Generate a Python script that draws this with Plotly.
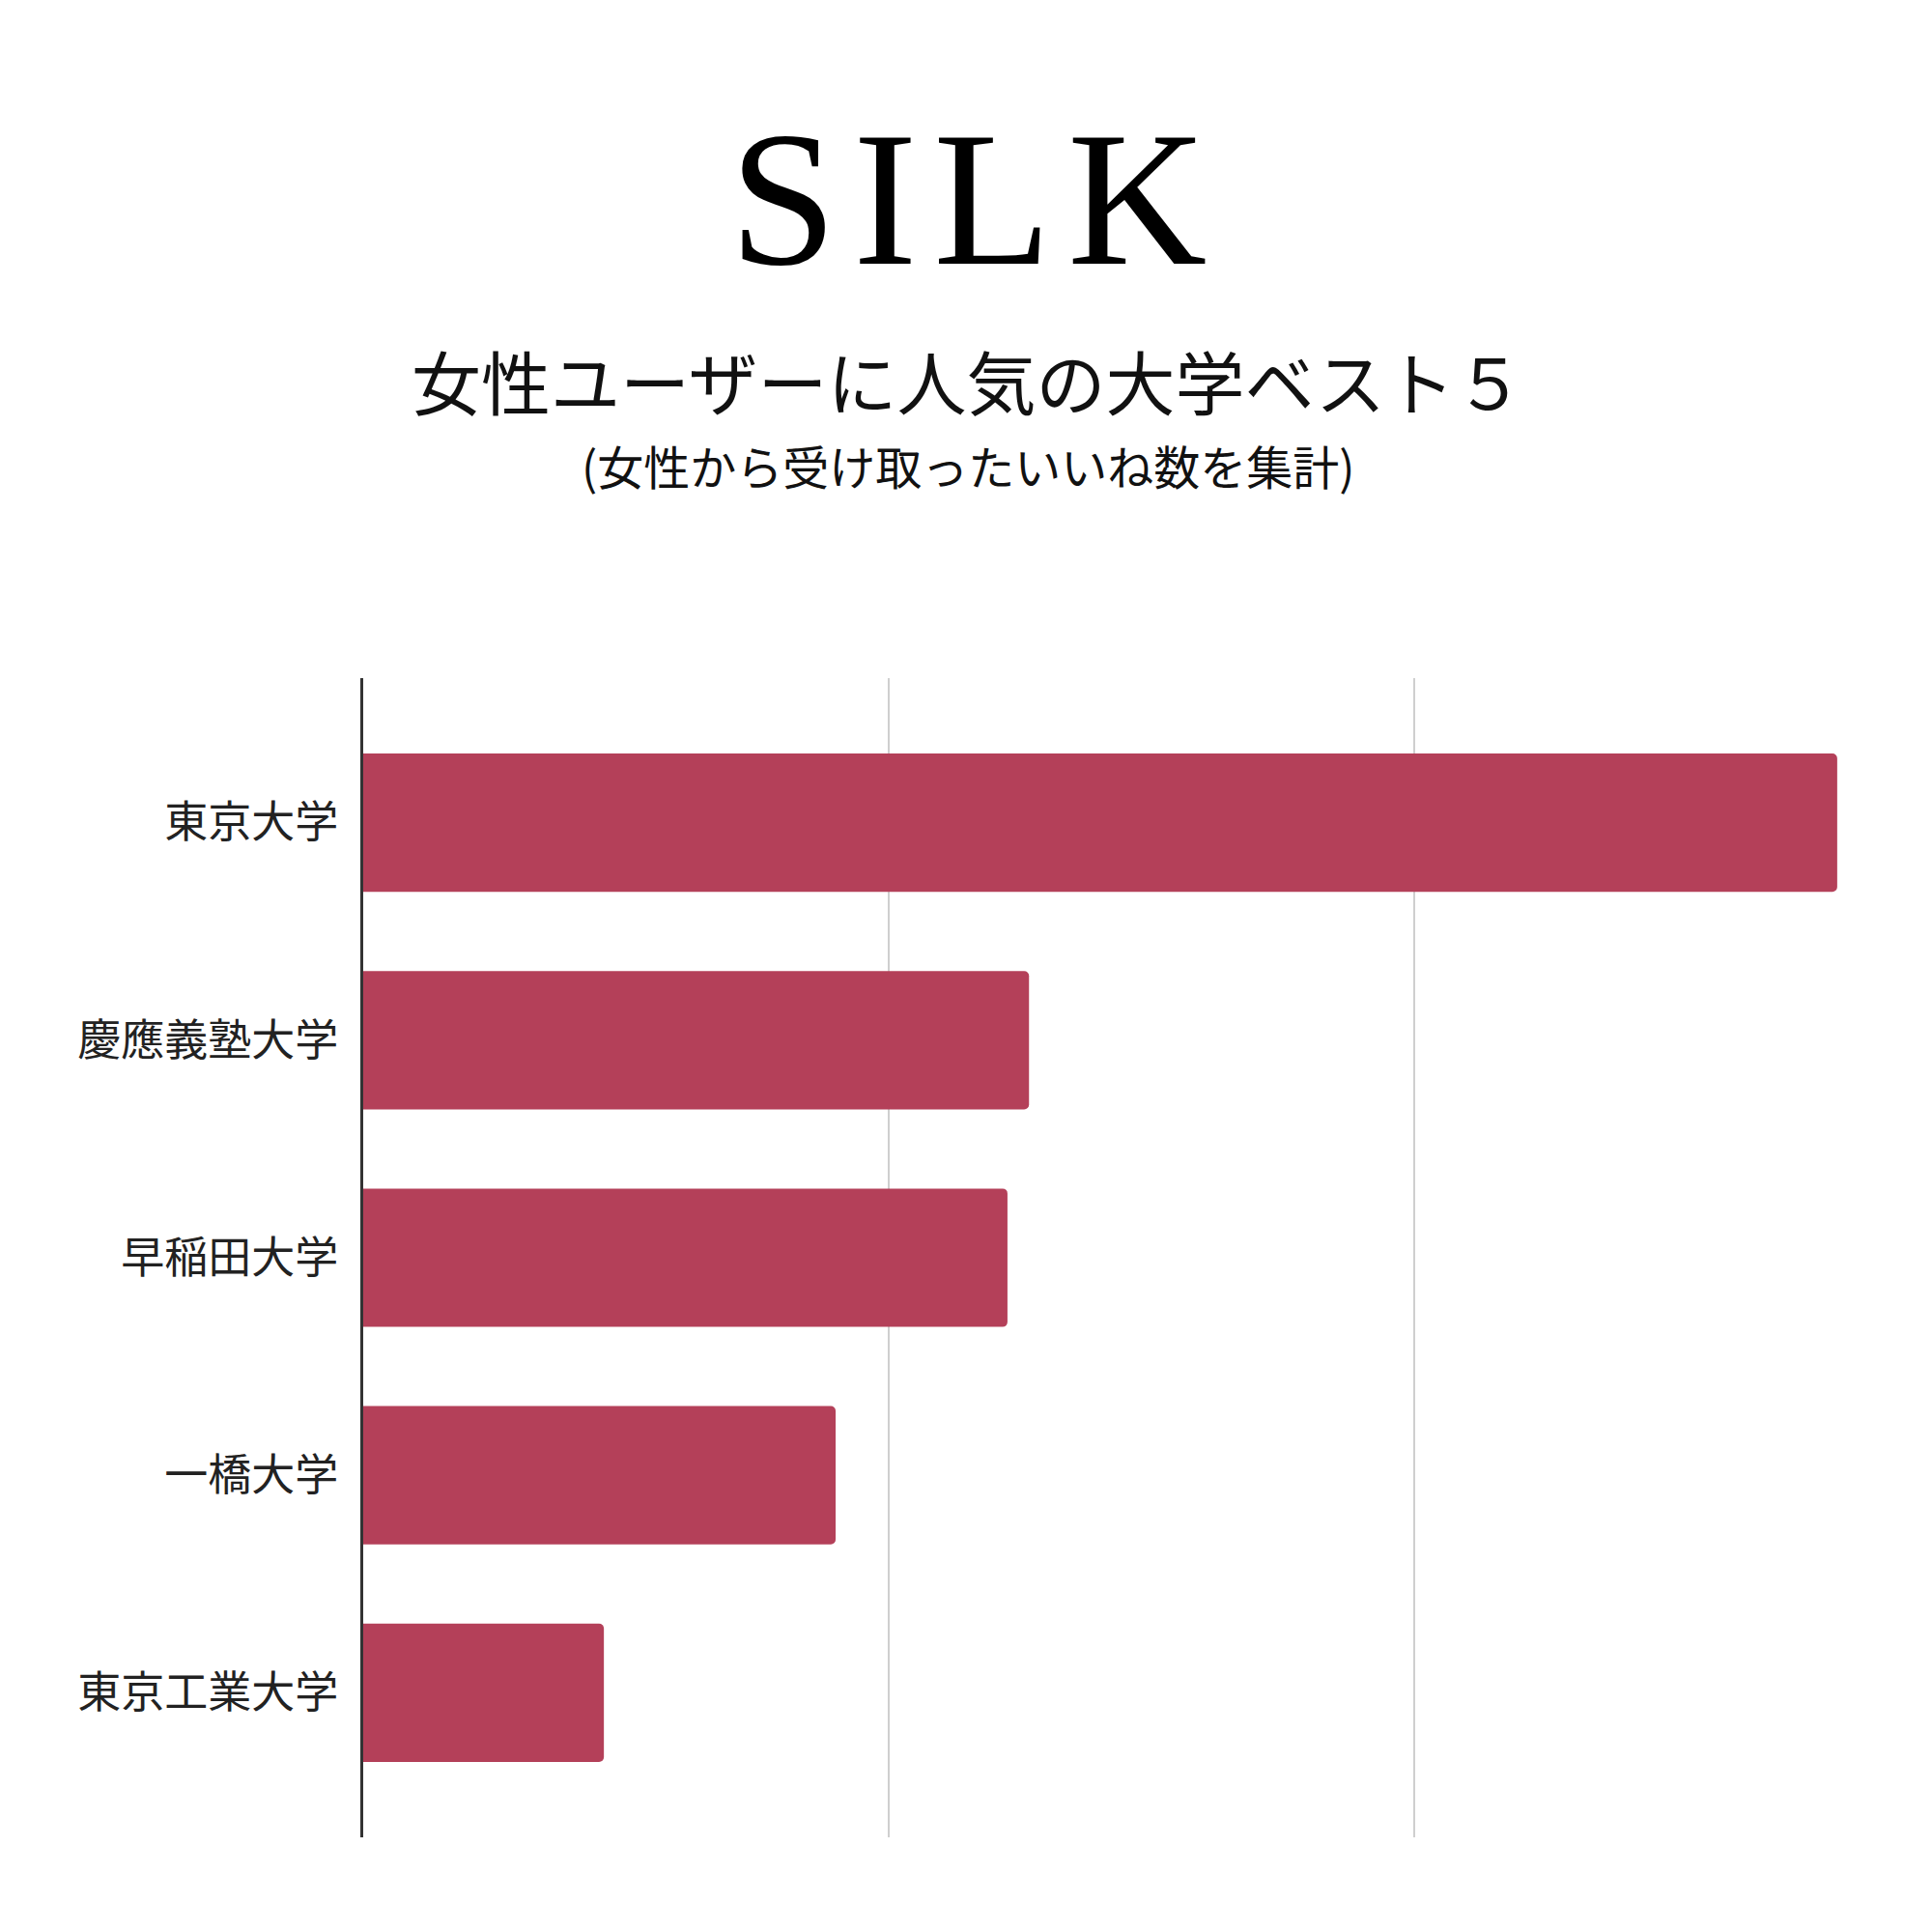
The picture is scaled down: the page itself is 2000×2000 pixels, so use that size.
import plotly.graph_objects as go

universities = ["東京大学", "慶應義塾大学", "早稲田大学", "一橋大学", "東京工業大学"]
likes = [280.5, 126.7, 122.6, 89.9, 45.8]

title_text = "S\u200aI\u200aL\u200aK"
subtitle_text = "女性ユーザーに人気の大学ベスト５"
note_text = "(女性から受け取ったいいね数を集計)"

W, H = 2000, 2000
L, R, T, B = 368, 86, 694, 106
plot_h = H - T - B
plot_w = W - L - R
PLOT_BOTTOM = 1902  # screenshot pixel

def py(pix):
    return (PLOT_BOTTOM - pix) / plot_h

fig = go.Figure(go.Bar(
    x=likes, y=universities, orientation="h",
    marker=dict(color="#B44059", cornerradius=5, line=dict(width=0)),
    width=0.636,
))

cjk = "Noto Sans CJK JP, Noto Sans CJK SC, sans-serif"
cx = (1000 - 374) / plot_w

fig.update_layout(
    width=W, height=H,
    margin=dict(l=L, r=R, t=T, b=B),
    paper_bgcolor="white", plot_bgcolor="white",
    showlegend=False,
    xaxis=dict(range=[0, 284.2], dtick=100, tick0=0, showgrid=True,
               gridcolor="#cfcfcf", gridwidth=2, showticklabels=False,
               zeroline=False, showline=False, ticks=""),
    yaxis=dict(autorange=False, range=[4.665, -0.665], showgrid=False,
               showline=True, linecolor="#333333", linewidth=2.5,
               ticks="", ticklabelstandoff=14,
               tickfont=dict(family=cjk, size=45, color="#222222")),
    annotations=[
        dict(text=title_text, x=cx, xref="paper", y=py(205), yref="paper",
             xanchor="center", yanchor="middle", showarrow=False,
             font=dict(family="Liberation Serif, serif", size=200, color="#000000")),
        dict(text=subtitle_text, x=cx, xref="paper", y=py(392), yref="paper",
             xanchor="center", yanchor="middle", showarrow=False,
             font=dict(family=cjk, size=72, color="#111111")),
        dict(text=note_text, x=cx, xref="paper", y=py(481), yref="paper",
             xanchor="center", yanchor="middle", showarrow=False,
             font=dict(family=cjk, size=48, color="#111111")),
    ],
)

fig.write_html("out.html")
